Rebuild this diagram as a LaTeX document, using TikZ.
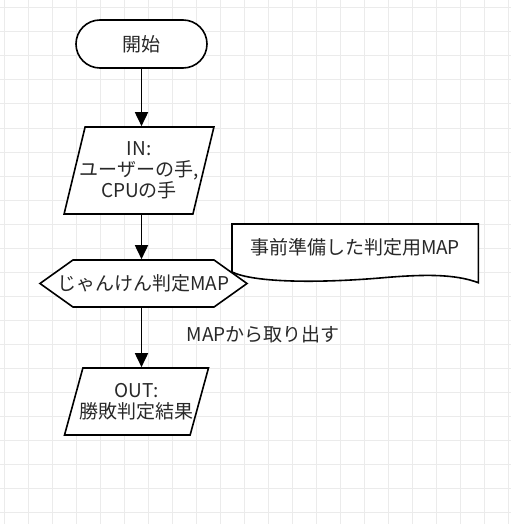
\documentclass[tikz,border=0pt]{standalone}
\usepackage{fontspec}
\setmainfont{Noto Sans CJK JP}
\usetikzlibrary{arrows.meta, positioning, shapes.geometric, shapes.symbols}
\definecolor{gridcol}{RGB}{235,235,235}
\definecolor{linecol}{RGB}{0,0,0}
\definecolor{textcol}{RGB}{40,40,40}
\tikzset{
	every text node part/.style = {align=center},
	boxline/.style = {draw=linecol, fill=white, line width=1.6pt},
	startbox/.style = {boxline, rounded corners=24pt, minimum width=131pt, minimum height=48pt},
	iobox/.style = {boxline, trapezium, trapezium stretches=true, inner xsep=-20pt, inner ysep=0pt},
	judgebox/.style = {boxline, signal, signal to=east and west, signal pointer angle=71, minimum width=207pt, minimum height=47pt, inner xsep=-20pt, inner ysep=0pt},
	flow/.style = {draw=linecol, line width=1.7pt, -{Triangle[length=14pt, width=13pt]}}
}

\begin{document}
\begin{tikzpicture}[x=1pt, y=-1pt]
	
	\useasboundingbox (0,0) rectangle (511,524);
	\tikzstyle{every node}=[font=\fontsize{19}{21}\selectfont, text=textcol]
	% background grid
	\foreach \gx in {0,...,21} \draw [gridcol, line width=1pt] (4.7+24*\gx,0) -- (4.7+24*\gx,524);
	\foreach \gy in {0,...,21} \draw [gridcol, line width=1pt] (0,8+24*\gy) -- (511,8+24*\gy);
	
	\node [startbox] (start) at (141.5,44) {開始};
	\node [iobox, trapezium left angle=75, trapezium right angle=105, minimum width=150pt, minimum height=87pt] (input) at (139,170.5) {IN:\\ユーザーの手,\\CPUの手};
	\node [judgebox] (judge) at (143.5,283.5) {じゃんけん判定MAP};
	\node [iobox, trapezium left angle=71, trapezium right angle=109, minimum width=145pt, minimum height=67pt] (output) at (136.5,401.5) {OUT:\\勝敗判定結果};
	
	% memo
	\draw [boxline] (232,272) -- (232,224) -- (478.3,224) -- (478.3,282.7) .. controls (455,274) and (425,274) .. (380,278) .. controls (320,283) and (255,283) .. (232,272) -- cycle;
	\node (memo) at (355,247) {事前準備した判定用MAP};
	
	\draw [flow] (start) -- (start |- input.north);
	\draw [flow] (input.south -| start) -- (start |- judge.north);
	\draw [flow] (judge.south -| start) -- node [right=41pt, pos=0.45] (pick) {MAPから取り出す} (start |- output.north);
\end{tikzpicture}
\end{document}
